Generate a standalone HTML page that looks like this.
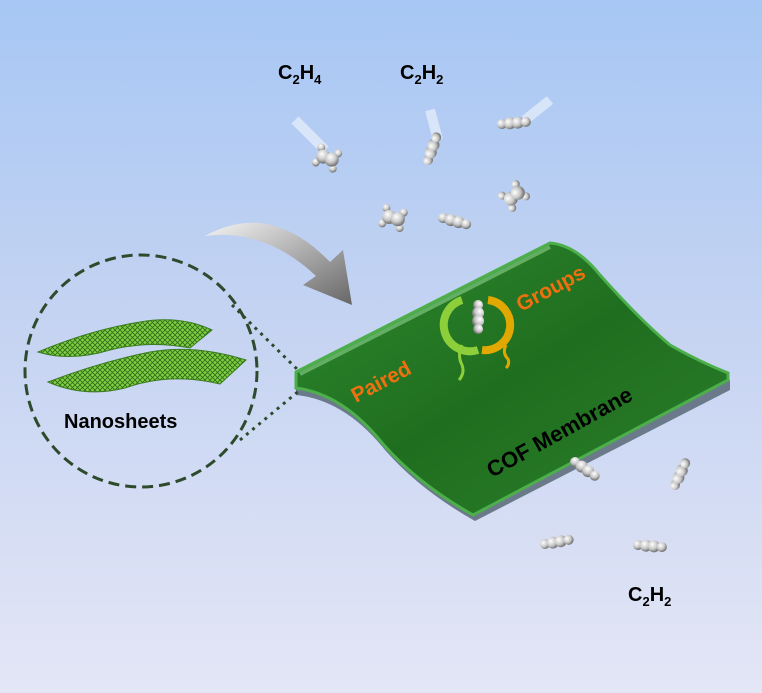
<!DOCTYPE html>
<html><head><style>
html,body{margin:0;padding:0}
body{width:762px;height:693px;overflow:hidden;background:linear-gradient(#a7c7f4 0%,#c4d3f2 45%,#e4e6f6 100%)}
svg{position:absolute;left:0;top:0}
text{font-family:"Liberation Sans",sans-serif;font-weight:bold}
</style></head><body>
<svg width="762" height="693" viewBox="0 0 762 693">
<defs>
<radialGradient id="ball" cx="35%" cy="35%" r="65%"><stop offset="0" stop-color="#fff"/><stop offset="0.6" stop-color="#c8c8c8"/><stop offset="1" stop-color="#777"/></radialGradient>
<linearGradient id="arr" x1="0" y1="0" x2="1" y2="1"><stop offset="0" stop-color="#f4f4f4"/><stop offset="1" stop-color="#666"/></linearGradient>
<linearGradient id="mem" x1="0" y1="0" x2="1" y2="1"><stop offset="0" stop-color="#2f8a2f"/><stop offset="0.5" stop-color="#1f6e1f"/><stop offset="1" stop-color="#2b7f2b"/></linearGradient>
<pattern id="mesh" width="5" height="5" patternUnits="userSpaceOnUse"><rect width="5" height="5" fill="#7fcf40"/><path d="M0,0 L5,5 M5,0 L0,5" stroke="#2e6a1a" stroke-width="0.8"/></pattern>
<g id="ac"><circle cx="0" cy="0" r="5" fill="url(#ball)"/><circle cx="8" cy="0" r="6" fill="url(#ball)"/><circle cx="16" cy="0" r="6" fill="url(#ball)"/><circle cx="24" cy="0" r="5" fill="url(#ball)"/></g>
<g id="et"><circle cx="-9" cy="-8" r="4" fill="url(#ball)"/><circle cx="9" cy="8" r="4" fill="url(#ball)"/><circle cx="-9" cy="8" r="4" fill="url(#ball)"/><circle cx="9" cy="-8" r="4" fill="url(#ball)"/><circle cx="-4" cy="0" r="7" fill="url(#ball)"/><circle cx="5" cy="0" r="7" fill="url(#ball)"/></g>
</defs>
<!-- membrane -->
<path d="M296,380 L550,250 Q578,252 602,282 Q640,326 672,352 Q700,368 730,380 L730,390 L475,521 Q420,490 385,450 Q345,400 296,395 Z" fill="#6b7a8a"/>
<path d="M296,372 L550,243 Q576,245 600,275 Q640,320 670,345 Q700,362 728,373 L728,380 L473,515 Q418,484 383,444 Q343,394 296,388 Z" fill="url(#mem)" stroke="#4caf4c" stroke-width="3"/>
<path d="M300,374 L550,247" stroke="#7cc47c" stroke-width="4" opacity="0.7"/>
<!-- arrow -->
<path d="M205,236 Q270,200 330,262 L343,250 L352,305 L303,285 L316,276 Q265,228 205,236 Z" fill="url(#arr)"/>
<!-- circle -->
<circle cx="141" cy="371" r="116" fill="none" stroke="#2d4a2d" stroke-width="3" stroke-dasharray="11,6"/>
<path d="M232,305 L300,372 M240,440 L300,390" stroke="#2d4a2d" stroke-width="3" stroke-dasharray="3,5"/>
<!-- nanosheets -->
<g fill="url(#mesh)" stroke="#3a7a20" stroke-width="1">
<path d="M38,352 Q90,330 140,322 Q180,315 212,330 L190,348 Q150,340 110,350 Q70,362 38,352Z"/>
<path d="M48,382 Q100,362 150,352 Q195,344 246,360 L220,384 Q170,372 125,388 Q85,398 48,382Z"/>
</g>
<text x="64" y="428" font-size="20">Nanosheets</text>
<!-- paired groups icon -->
<path d="M462,300 A22,22 0 0 0 478,350" fill="none" stroke="#8ccf3a" stroke-width="8"/>
<path d="M488,300 A22,22 0 0 1 482,350" fill="none" stroke="#e0a800" stroke-width="8"/>
<path d="M462,345 q-5,10 0,20 q3,8 -3,15" fill="none" stroke="#8ccf3a" stroke-width="3"/>
<path d="M506,345 q-4,8 2,14 q2,5 -2,9" fill="none" stroke="#e0a800" stroke-width="3"/>
<g transform="translate(478,305) rotate(90)"><use href="#ac"/></g>
<text font-size="21" fill="#f07010" transform="translate(356,403) rotate(-28)">Paired</text>
<text font-size="21" fill="#f07010" transform="translate(521,312) rotate(-28)">Groups</text>
<text font-size="22" fill="#000" transform="translate(492,478) rotate(-29)">COF Membrane</text>
<!-- labels -->
<text x="278" y="79" font-size="20">C<tspan font-size="13" dy="5">2</tspan><tspan dy="-5">H</tspan><tspan font-size="13" dy="5">4</tspan></text>
<text x="400" y="79" font-size="20">C<tspan font-size="13" dy="5">2</tspan><tspan dy="-5">H</tspan><tspan font-size="13" dy="5">2</tspan></text>
<text x="628" y="601" font-size="20">C<tspan font-size="13" dy="5">2</tspan><tspan dy="-5">H</tspan><tspan font-size="13" dy="5">2</tspan></text>
<!-- molecules -->
<path d="M295,120 L325,150 M430,110 L438,140 M550,100 L525,120" stroke="#fff" stroke-width="10" opacity="0.5"/>
<g transform="translate(327,158) rotate(20)"><use href="#et"/></g>
<g transform="translate(428,160) rotate(-70)"><use href="#ac"/></g>
<g transform="translate(502,124) rotate(-5)"><use href="#ac"/></g>
<g transform="translate(393,218) rotate(15)"><use href="#et"/></g>
<g transform="translate(443,218) rotate(15)"><use href="#ac"/></g>
<g transform="translate(514,196) rotate(-40)"><use href="#et"/></g>
<g transform="translate(575,462) rotate(35)"><use href="#ac"/></g>
<g transform="translate(675,485) rotate(-65)"><use href="#ac"/></g>
<g transform="translate(545,544) rotate(-10)"><use href="#ac"/></g>
<g transform="translate(638,545) rotate(5)"><use href="#ac"/></g>
</svg>
</body></html>
